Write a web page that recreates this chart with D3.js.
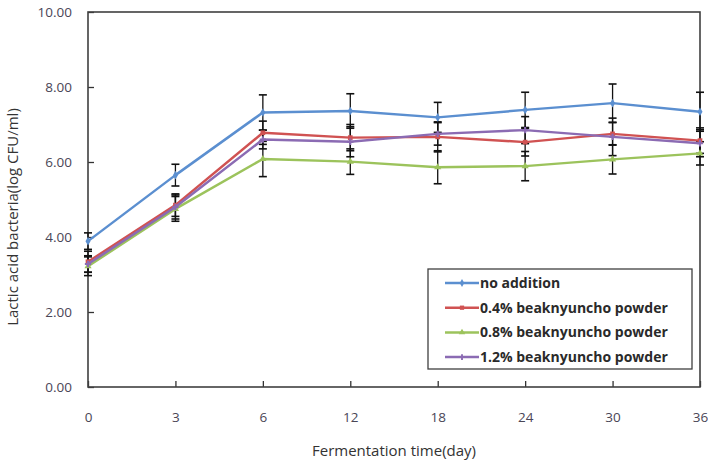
<!DOCTYPE html>
<meta charset="utf-8">
<style>
body { margin: 0; background: #fff; }
text { font-family: "Open Sans", "Liberation Sans", sans-serif; }
.tick text { fill: #4a4656; font-size: 13.5px; }
</style>
<body>
<svg width="708" height="461"></svg>
</body>
<script src="https://d3js.org/d3.v7.min.js"></script>
<script>

// fermentation days (x categories)
var days = ["0", "3", "6", "12", "18", "24", "30", "36"];
var yTicks = [0, 2, 4, 6, 8, 10];

var seriesNames = ["no addition", "0.4% beaknyuncho powder", "0.8% beaknyuncho powder", "1.2% beaknyuncho powder"];

// log CFU/ml
var noAddition   = [3.89, 5.65, 7.32, 7.36, 7.19, 7.39, 7.57, 7.34];
var powder04     = [3.34, 4.85, 6.78, 6.65, 6.67, 6.53, 6.75, 6.57];
var powder08     = [3.22, 4.75, 6.08, 6.01, 5.86, 5.89, 6.07, 6.23];
var powder12     = [3.28, 4.80, 6.60, 6.54, 6.75, 6.85, 6.67, 6.50];

// error bar half widths
var noAdditionErr = [0.22, 0.29, 0.47, 0.46, 0.40, 0.47, 0.51, 0.52];
var powder04Err   = [0.28, 0.30, 0.31, 0.35, 0.40, 0.37, 0.30, 0.34];
var powder08Err   = [0.25, 0.33, 0.47, 0.34, 0.44, 0.39, 0.39, 0.31];
var powder12Err   = [0.22, 0.32, 0.25, 0.40, 0.30, 0.36, 0.50, 0.36];

var colors = ["#5b8fd0", "#d05252", "#9cc35c", "#8b6bb3"];
var symbols = [d3.symbolDiamond, d3.symbolSquare, d3.symbolTriangle, d3.symbolCross];

var series = [
  { name: seriesNames[0], values: noAddition, err: noAdditionErr },
  { name: seriesNames[1], values: powder04, err: powder04Err },
  { name: seriesNames[2], values: powder08, err: powder08Err },
  { name: seriesNames[3], values: powder12, err: powder12Err }
];
series.forEach(function(s, i) { s.color = colors[i]; s.symbol = symbols[i]; });

var svg = d3.select("svg");
var pLeft = 88, pRight = 700, pTop = 12, pBottom = 387;

var x = d3.scalePoint().domain(days).range([pLeft, pRight]).padding(0);
var y = d3.scaleLinear().domain([0, 10]).range([pBottom, pTop]);

// axes, ticks pointing inward
svg.append("g")
    .attr("transform", "translate(0," + pBottom + ")")
    .call(d3.axisBottom(x).tickSize(-6).tickPadding(25))
    .call(function(g) {
      g.select(".domain").remove();
      g.selectAll(".tick line").attr("stroke", "#333").attr("stroke-width", 1.3);
    });

svg.append("g")
    .attr("transform", "translate(" + pLeft + ",0)")
    .call(d3.axisLeft(y).tickValues(yTicks).tickFormat(d3.format(".2f")).tickSize(-6).tickPadding(16))
    .call(function(g) {
      g.select(".domain").remove();
      g.selectAll(".tick line").attr("stroke", "#333").attr("stroke-width", 1.3);
    });

// plot frame
svg.append("rect")
    .attr("x", pLeft).attr("y", pTop)
    .attr("width", pRight - pLeft).attr("height", pBottom - pTop)
    .attr("fill", "none").attr("stroke", "#404040").attr("stroke-width", 1.6);

// error bars
var eb = svg.append("g").attr("stroke", "#111").attr("stroke-width", 1.3);
series.forEach(function(s) {
  s.values.forEach(function(v, i) {
    var cx = x(days[i]);
    var y1 = y(v + s.err[i]), y2 = y(v - s.err[i]);
    eb.append("line").attr("x1", cx).attr("x2", cx).attr("y1", y1).attr("y2", y2);
    eb.append("line").attr("x1", cx - 4).attr("x2", cx + 4).attr("y1", y1).attr("y2", y1).attr("stroke-width", 1.6);
    eb.append("line").attr("x1", cx - 4).attr("x2", cx + 4).attr("y1", y2).attr("y2", y2).attr("stroke-width", 1.6);
  });
});

// lines and markers
var line = d3.line()
    .x(function(d, i) { return x(days[i]); })
    .y(function(d) { return y(d); });

series.forEach(function(s) {
  svg.append("path")
      .datum(s.values)
      .attr("fill", "none")
      .attr("stroke", s.color)
      .attr("stroke-width", 2.5)
      .attr("stroke-linejoin", "round")
      .attr("d", line);
  svg.append("g").selectAll("path")
      .data(s.values)
      .enter().append("path")
      .attr("transform", function(d, i) { return "translate(" + x(days[i]) + "," + y(d) + ")"; })
      .attr("d", d3.symbol().type(s.symbol).size(22))
      .attr("fill", s.color);
});

// legend
var lg = svg.append("g");
lg.append("rect")
    .attr("x", 428).attr("y", 269).attr("width", 264).attr("height", 100)
    .attr("fill", "#fff").attr("stroke", "#404040").attr("stroke-width", 1.3);
series.forEach(function(s, i) {
  var ly = 283 + i * 24.7;
  lg.append("line")
      .attr("x1", 445).attr("x2", 479).attr("y1", ly).attr("y2", ly)
      .attr("stroke", s.color).attr("stroke-width", 2.5);
  lg.append("path")
      .attr("transform", "translate(462," + ly + ")")
      .attr("d", d3.symbol().type(s.symbol).size(18))
      .attr("fill", s.color);
  lg.append("text")
      .attr("x", 480).attr("y", ly).attr("dy", "0.35em")
      .attr("font-size", 14).attr("font-weight", "bold")
      .attr("fill", "#2a2a2a")
      .text(s.name);
});

// axis titles
svg.append("text")
    .attr("transform", "translate(18,217) rotate(-90)")
    .attr("text-anchor", "middle")
    .attr("font-size", 15).attr("fill", "#333")
    .text("Lactic acid bacteria(log CFU/ml)");

svg.append("text")
    .attr("x", (pLeft + pRight) / 2).attr("y", 456)
    .attr("text-anchor", "middle")
    .attr("font-size", 15).attr("fill", "#333")
    .text("Fermentation time(day)");

</script>
